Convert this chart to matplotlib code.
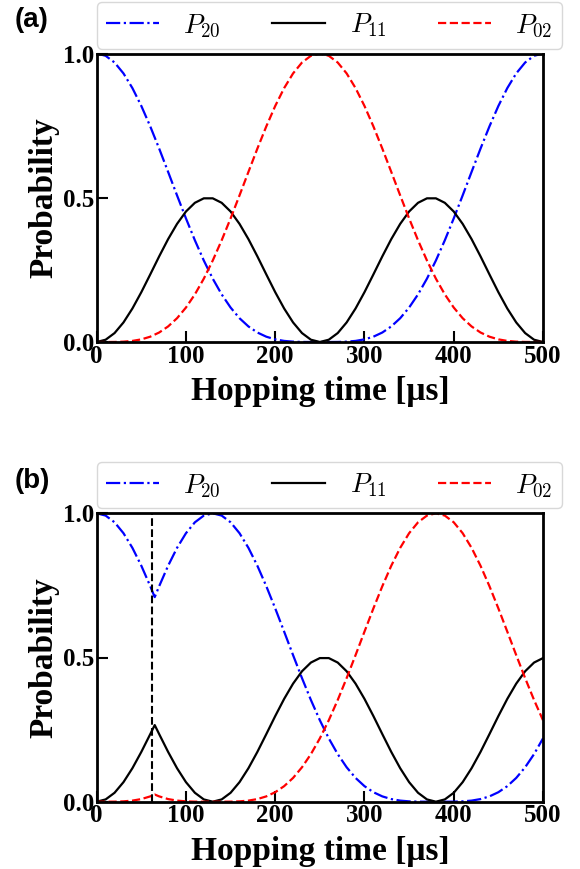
import matplotlib
matplotlib.use("Agg")
import matplotlib.pyplot as plt
from matplotlib.ticker import FormatStrFormatter

# ---------------- data ----------------
# panel (a): time in microseconds, 10 us spacing
t_a = list(range(0, 501, 10))
P20_a = [1.0, .9921, .9688, .9310, .8801, .8181, .7473, .6703, .5897, .5082,
         .4284, .3525, .2824, .2196, .1651, .1194, .0824, .0539, .0329, .0184,
         .0091, .0038, .0012, .0002, .0000, 0.0,
         .0000, .0002, .0012, .0038, .0091, .0184, .0329, .0539, .0824, .1194,
         .1651, .2196, .2824, .3525, .4284, .5082, .5897, .6703, .7473, .8181,
         .8801, .9310, .9688, .9921, 1.0]
P11_a = [0.0, .0079, .0309, .0678, .1161, .1727, .2343, .2969, .3565, .4094,
         .4523, .4825, .4980, .4980, .4825, .4523, .4094, .3565, .2969, .2343,
         .1727, .1161, .0678, .0309, .0079, 0.0,
         .0079, .0309, .0678, .1161, .1727, .2343, .2969, .3565, .4094, .4523,
         .4825, .4980, .4980, .4825, .4523, .4094, .3565, .2969, .2343, .1727,
         .1161, .0678, .0309, .0079, 0.0]
P02_a = [0.0, .0000, .0002, .0012, .0038, .0091, .0184, .0329, .0539, .0824,
         .1194, .1651, .2196, .2824, .3525, .4284, .5082, .5897, .6703, .7473,
         .8181, .8801, .9310, .9688, .9921, 1.0,
         .9921, .9688, .9310, .8801, .8181, .7473, .6703, .5897, .5082, .4284,
         .3525, .2824, .2196, .1651, .1194, .0824, .0539, .0329, .0184, .0091,
         .0038, .0012, .0002, .0000, 0.0]

# panel (b): kink at 65 us
t_b = [0, 10, 20, 30, 40, 50, 60, 65] + list(range(70, 501, 10))
P20_b = [1.0, .9921, .9688, .9310, .8801, .8181, .7473, .7094,
         .7473, .8181, .8801, .9310, .9688, .9921, 1.0,
         .9921, .9688, .9310, .8801, .8181, .7473, .6703, .5897, .5082, .4284,
         .3525, .2824, .2196, .1651, .1194, .0824, .0539, .0329, .0184, .0091,
         .0038, .0012, .0002, .0000, 0.0, .0000, .0002, .0012, .0038, .0091,
         .0184, .0329, .0539, .0824, .1194, .1651, .2196]
P11_b = [0.0, .0079, .0309, .0678, .1161, .1727, .2343, .2657,
         .2343, .1727, .1161, .0678, .0309, .0079, 0.0,
         .0079, .0309, .0678, .1161, .1727, .2343, .2969, .3565, .4094, .4523,
         .4825, .4980, .4980, .4825, .4523, .4094, .3565, .2969, .2343, .1727,
         .1161, .0678, .0309, .0079, 0.0, .0079, .0309, .0678, .1161, .1727,
         .2343, .2969, .3565, .4094, .4523, .4825, .4980]
P02_b = [0.0, .0000, .0002, .0012, .0038, .0091, .0184, .0249,
         .0184, .0091, .0038, .0012, .0002, .0000, 0.0,
         .0000, .0002, .0012, .0038, .0091, .0184, .0329, .0539, .0824, .1194,
         .1651, .2196, .2824, .3525, .4284, .5082, .5897, .6703, .7473, .8181,
         .8801, .9310, .9688, .9921, 1.0, .9921, .9688, .9310, .8801, .8181,
         .7473, .6703, .5897, .5082, .4284, .3525, .2824]

t_mark = 62.5
labels = [r"$P_{20}$", r"$P_{11}$", r"$P_{02}$"]
xticks = [0, 100, 200, 300, 400, 500]
yticks = [0.0, 0.5, 1.0]

# ---------------- style ----------------
plt.rcParams['mathtext.fontset'] = 'cm'
serif = 'Liberation Serif'

fig = plt.figure(figsize=(5.8, 8.69), dpi=100)
W, H = 580.0, 869.0
left = 96.7 / W
width = (543.0 - 96.7) / W
pos_a = [left, 1 - 342.0 / H, width, (342.0 - 53.5) / H]
pos_b = [left, 1 - 801.7 / H, width, (801.7 - 513.3) / H]


def panel(pos, t, p20, p11, p02, tag, ytag, vline=None):
    ax = fig.add_axes(pos)
    l1, = ax.plot(t, p20, color='blue', ls='-.', lw=1.6)
    l2, = ax.plot(t, p11, color='black', ls='-', lw=1.6)
    l3, = ax.plot(t, p02, color='red', ls='--', lw=1.6)
    if vline is not None:
        ax.axvline(vline, color='black', ls='--', lw=1.5)
    ax.set_xlim(0, 500)
    ax.set_ylim(0, 1)
    ax.set_xticks(xticks)
    ax.set_yticks(yticks)
    ax.yaxis.set_major_formatter(FormatStrFormatter('%.1f'))
    ax.tick_params(direction='in', length=8, width=1.5, pad=2)
    for lab in ax.get_xticklabels() + ax.get_yticklabels():
        lab.set_fontfamily(serif)
        lab.set_fontweight('bold')
        lab.set_fontsize(18)
    for s in ax.spines.values():
        s.set_linewidth(2.0)
    ax.set_xlabel('Hopping time [μs]', fontfamily=serif, fontweight='bold',
                  fontsize=24, labelpad=6)
    ax.set_ylabel('Probability', fontfamily=serif, fontweight='bold',
                  fontsize=24, labelpad=2)
    leg = ax.legend([l1, l2, l3], labels, ncol=3, loc='lower left',
                    bbox_to_anchor=(0.0, 1.017), borderaxespad=0,
                    fontsize=19.5, handlelength=1.95, columnspacing=1.9,
                    handletextpad=0.9, borderpad=0.35, fancybox=True,
                    framealpha=1)
    leg.get_frame().set_edgecolor('#d8d8d8')
    fig.text(15.0 / W, ytag, tag, fontfamily='Liberation Sans',
             fontweight='bold', fontsize=20, va='center', ha='left')
    return ax


panel(pos_a, t_a, P20_a, P11_a, P02_a, '(a)', 1 - 20.0 / H)
panel(pos_b, t_b, P20_b, P11_b, P02_b, '(b)', 1 - 481.0 / H, vline=t_mark)

fig.savefig('out.png', dpi=100)
